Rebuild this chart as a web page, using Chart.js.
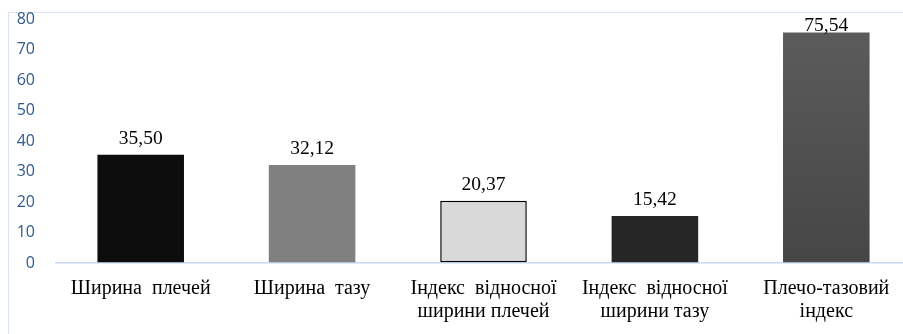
<!DOCTYPE html>
<html>
<head>
<meta charset="utf-8">
<script src="https://cdn.jsdelivr.net/npm/chart.js@4.4.0/dist/chart.umd.min.js"></script>
<style>
html,body{margin:0;padding:0;background:#fff;overflow:hidden;width:903px;height:334px;}
#frame{position:absolute;left:8px;top:12px;width:1000px;height:400px;border:1px solid #dae3f3;box-sizing:border-box;}
#wrap{position:absolute;left:0;top:0;width:912px;height:334px;}
</style>
</head>
<body>
<div id="frame"></div>
<div id="wrap"><canvas id="c"></canvas></div>
<script>
const categories = [
  "Ширина  плечей",
  "Ширина  тазу",
  ["Індекс  відносної", "ширини плечей"],
  ["Індекс  відносної", "ширини тазу"],
  ["Плечо-тазовий", "індекс"]
];
const values = [35.50, 32.12, 20.37, 15.42, 75.54];
const valueLabels = ["35,50", "32,12", "20,37", "15,42", "75,54"];
const yTicks = [0, 10, 20, 30, 40, 50, 60, 70, 80];

const solidColors = ["#0d0d0d", "#808080", "#d9d9d9", "#262626", null];

const labelPlugin = {
  id: 'valueLabels',
  afterDatasetsDraw(chart) {
    const ctx = chart.ctx;
    const meta = chart.getDatasetMeta(0);
    ctx.save();
    ctx.font = '19.5px "Liberation Serif", "Times New Roman", serif';
    ctx.fillStyle = '#000';
    ctx.textAlign = 'center';
    ctx.textBaseline = 'middle';
    meta.data.forEach((bar, i) => {
      ctx.fillText(valueLabels[i], bar.x, Math.max(bar.y - 16, 26));
    });
    ctx.restore();
  }
};

new Chart(document.getElementById('c'), {
  type: 'bar',
  data: {
    labels: categories,
    datasets: [{
      data: values,
      backgroundColor: (ctx) => {
        const i = ctx.dataIndex;
        if (solidColors[i]) return solidColors[i];
        const ca = ctx.chart.chartArea;
        if (!ca) return '#505050';
        const g = ctx.chart.ctx.createLinearGradient(0, ca.top, 0, ca.bottom);
        g.addColorStop(0, '#5c5c5c');
        g.addColorStop(1, '#464646');
        return g;
      },
      borderColor: ["#0d0d0d", "#808080", "#000000", "#262626", "#4a4a4a"],
      borderWidth: [0, 0, 1.5, 0, 0],
      borderSkipped: false,
      barPercentage: 0.505,
      categoryPercentage: 1.0
    }]
  },
  options: {
    responsive: true,
    maintainAspectRatio: false,
    animation: false,
    layout: { padding: { top: 19, left: 0, right: 0, bottom: 0 } },
    plugins: { legend: { display: false }, tooltip: { enabled: false } },
    scales: {
      x: {
        grid: { display: false },
        border: { display: false },
        ticks: {
          color: '#000',
          font: { family: '"Liberation Serif", "Times New Roman", serif', size: 20, lineHeight: 1.12 },
          padding: 7,
          maxRotation: 0,
          autoSkip: false
        },
        afterFit(s) { s.height = 71; s.paddingLeft = 0; s.paddingRight = 0; }
      },
      y: {
        min: 0, max: 80,
        afterBuildTicks(s) { s.ticks = yTicks.map(v => ({ value: v })); },
        grid: {
          drawTicks: false,
          color: (c) => c.tick && c.tick.value === 0 ? '#c9d8ee' : 'rgba(0,0,0,0)',
          lineWidth: 1.5
        },
        border: { display: false },
        ticks: {
          color: '#2e5a8e',
          font: { family: '"Open Sans", "Liberation Sans", sans-serif', size: 16 },
          padding: 20
        },
        afterFit(s) { s.width = 55; s.paddingTop = 0; s.paddingBottom = 0; }
      }
    }
  },
  plugins: [labelPlugin]
});
</script>
</body>
</html>
